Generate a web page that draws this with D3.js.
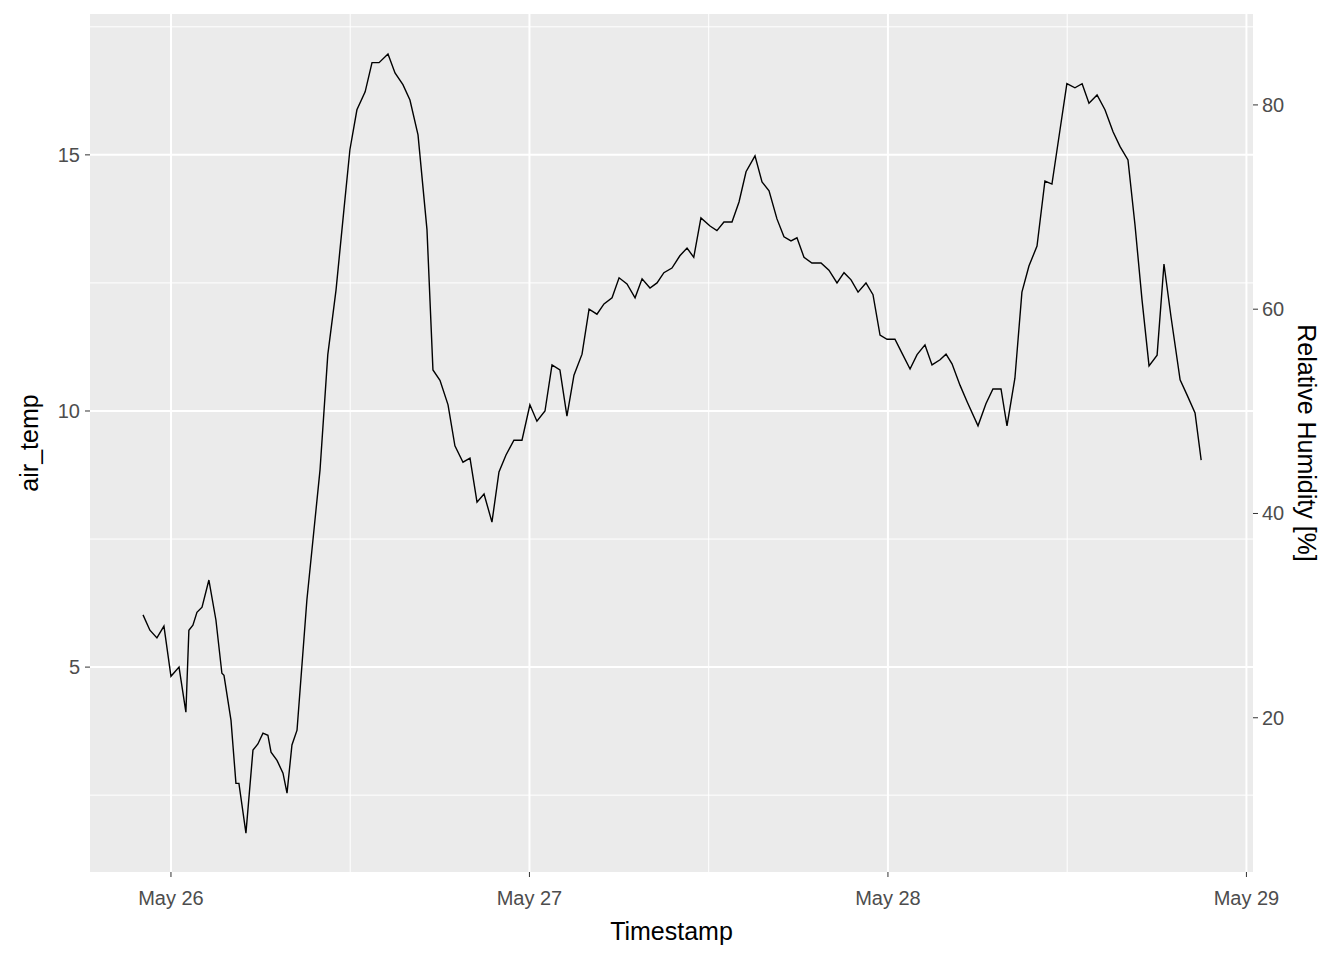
<!DOCTYPE html>
<html>
<head>
<meta charset="utf-8">
<script src="https://cdn.jsdelivr.net/npm/d3@7"></script>
<style>
  body { margin: 0; background: #fff; }
  text { font-family: "Liberation Sans", Arial, sans-serif; }
</style>
</head>
<body>
<svg id="chart" width="1344" height="960"></svg>
<script>
// hours after May 26 00:00 and air temperature
var hours = [-1.87,-1.41,-0.94,-0.47,0,0.54,1.0,1.2,1.47,1.74,2.08,2.54,3.01,3.41,3.55,4.02,4.35,4.55,5.02,5.49,5.82,6.16,6.49,6.7,7.1,7.5,7.77,8.1,8.44,9.1,9.98,10.5,11.05,11.58,11.98,12.45,13.0,13.46,13.93,14.53,15.0,15.53,16.0,16.54,17.14,17.54,18.01,18.55,19.01,19.55,20.02,20.49,20.96,21.49,21.96,22.43,22.96,23.5,24.03,24.5,25.04,25.51,26.04,26.51,26.98,27.52,27.99,28.52,28.99,29.53,30.0,30.53,31.07,31.54,32.07,32.54,33.0,33.54,34.07,34.55,35.0,35.48,36.09,36.55,37.02,37.56,38.03,38.5,39.1,39.57,40.04,40.57,41.04,41.51,41.91,42.38,42.91,43.52,44.05,44.59,45.06,45.53,46.0,46.53,47.0,47.47,47.94,48.47,48.94,49.48,49.95,50.48,50.95,51.49,51.89,52.29,52.83,53.3,54.03,54.56,55.03,55.57,55.97,56.5,56.97,57.44,57.98,58.51,58.98,59.52,59.98,60.52,61.0,61.46,62.0,62.53,63.07,63.54,64.07,64.54,65.01,65.48,66.02,66.48,66.95,67.56,68.03,68.56,68.97];
var airTemp = [6.02,5.72,5.57,5.8,4.82,5.0,4.12,5.72,5.82,6.07,6.17,6.7,5.92,4.88,4.84,3.96,2.73,2.73,1.76,3.38,3.5,3.71,3.67,3.34,3.18,2.93,2.54,3.48,3.77,6.31,8.85,11.1,12.36,13.93,15.1,15.88,16.23,16.8,16.8,16.97,16.6,16.37,16.07,15.39,13.54,10.8,10.6,10.12,9.32,9.0,9.08,8.22,8.38,7.83,8.81,9.14,9.43,9.43,10.12,9.8,10.0,10.9,10.8,9.9,10.7,11.11,11.99,11.89,12.09,12.21,12.6,12.48,12.21,12.58,12.4,12.5,12.7,12.79,13.03,13.18,13.0,13.77,13.61,13.52,13.69,13.69,14.08,14.67,14.98,14.47,14.3,13.75,13.4,13.32,13.38,13.0,12.89,12.89,12.75,12.5,12.7,12.56,12.32,12.5,12.27,11.48,11.4,11.4,11.13,10.82,11.1,11.29,10.9,11.0,11.11,10.92,10.5,10.18,9.71,10.14,10.43,10.43,9.71,10.64,12.32,12.83,13.22,14.49,14.43,15.49,16.39,16.31,16.39,16.01,16.17,15.88,15.45,15.16,14.9,13.63,12.17,10.88,11.09,12.87,11.84,10.61,10.31,9.96,9.04];
var leftTicks = [5, 10, 15];
var rightTicks = [20, 40, 60, 80];
var dayTicks = ["May 26", "May 27", "May 28", "May 29"];

var start = new Date(2020, 4, 26);
var toDate = h => new Date(start.getTime() + h * 3600000);

var svg = d3.select("#chart");
var pLeft = 90, pRight = 1253, pTop = 14, pBottom = 872;

var x = d3.scaleTime().domain([toDate(-5.42), toDate(72.44)]).range([pLeft, pRight]);
var y = d3.scaleLinear().domain([1.0, 17.75]).range([pBottom, pTop]);
var y2 = d3.scaleLinear().domain([4.9, 88.9]).range([pBottom, pTop]);

svg.append("rect").attr("x", pLeft).attr("y", pTop)
  .attr("width", pRight - pLeft).attr("height", pBottom - pTop).attr("fill", "#ebebeb");

var g = svg.append("g");
// minor grid
[2.5, 7.5, 12.5, 17.5].forEach(v => g.append("line").attr("x1", pLeft).attr("x2", pRight)
  .attr("y1", y(v)).attr("y2", y(v)).attr("stroke", "#fff").attr("stroke-width", 1));
[12, 36, 60].forEach(h => g.append("line").attr("y1", pTop).attr("y2", pBottom)
  .attr("x1", x(toDate(h))).attr("x2", x(toDate(h))).attr("stroke", "#fff").attr("stroke-width", 1));
// major grid
leftTicks.forEach(v => g.append("line").attr("x1", pLeft).attr("x2", pRight)
  .attr("y1", y(v)).attr("y2", y(v)).attr("stroke", "#fff").attr("stroke-width", 2));
dayTicks.forEach((d, i) => g.append("line").attr("y1", pTop).attr("y2", pBottom)
  .attr("x1", x(toDate(24 * i))).attr("x2", x(toDate(24 * i))).attr("stroke", "#fff").attr("stroke-width", 2));

var line = d3.line().x((d, i) => x(toDate(hours[i]))).y(d => y(d));
svg.append("path").datum(airTemp).attr("d", line)
  .attr("fill", "none").attr("stroke", "#000").attr("stroke-width", 1.4);

// axes
var tickCol = "#4d4d4d";
leftTicks.forEach(v => {
  svg.append("line").attr("x1", pLeft - 5).attr("x2", pLeft).attr("y1", y(v)).attr("y2", y(v)).attr("stroke", "#333");
  svg.append("text").attr("x", pLeft - 10).attr("y", y(v)).attr("dy", "0.35em").attr("text-anchor", "end")
    .attr("font-size", 20).attr("fill", tickCol).text(v);
});
rightTicks.forEach(v => {
  svg.append("line").attr("x1", pRight).attr("x2", pRight + 5).attr("y1", y2(v)).attr("y2", y2(v)).attr("stroke", "#333");
  svg.append("text").attr("x", pRight + 9).attr("y", y2(v)).attr("dy", "0.35em")
    .attr("font-size", 20).attr("fill", tickCol).text(v);
});
dayTicks.forEach((d, i) => {
  var px = x(toDate(24 * i));
  svg.append("line").attr("x1", px).attr("x2", px).attr("y1", pBottom).attr("y2", pBottom + 5).attr("stroke", "#333");
  svg.append("text").attr("x", px).attr("y", pBottom + 33).attr("text-anchor", "middle")
    .attr("font-size", 20).attr("fill", tickCol).text(d);
});

svg.append("text").attr("x", (pLeft + pRight) / 2).attr("y", 940).attr("text-anchor", "middle")
  .attr("font-size", 25).text("Timestamp");
svg.append("text").attr("transform", "translate(38," + (pTop + pBottom) / 2 + ") rotate(-90)")
  .attr("text-anchor", "middle").attr("font-size", 25).text("air_temp");
svg.append("text").attr("transform", "translate(1298," + (pTop + pBottom) / 2 + ") rotate(90)")
  .attr("text-anchor", "middle").attr("font-size", 25).text("Relative Humidity [%]");
</script>
</body>
</html>
